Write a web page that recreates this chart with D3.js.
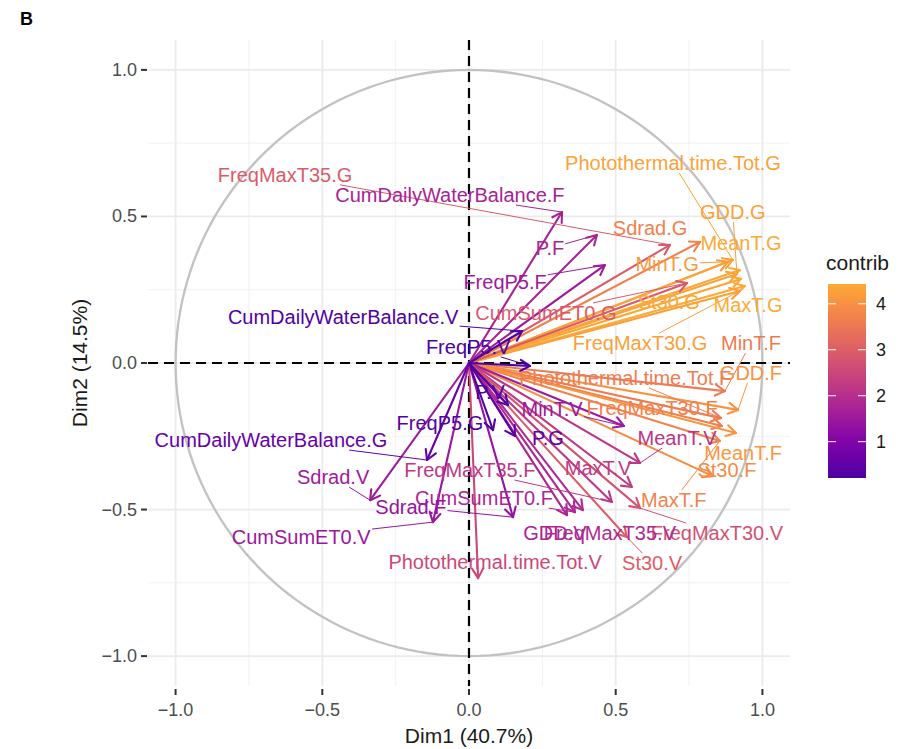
<!DOCTYPE html>
<html>
<head>
<meta charset="utf-8">
<script src="https://cdn.jsdelivr.net/npm/d3@7"></script>
<style>
  body { margin: 0; background: #fff; }
  text { font-family: "Liberation Sans", Arial, sans-serif; }
</style>
</head>
<body>
<div class="canvas"></div>
<script>
// variables (PCA correlation circle, coordinates on Dim1 / Dim2)
const names = [
  'CumDailyWaterBalance.F', 'P.F', 'FreqP5.F', 'FreqMaxT35.G', 'Sdrad.G', 'MinT.G',
  'Photothermal.time.Tot.G', 'MeanT.G', 'GDD.G', 'St30.G', 'MaxT.G', 'FreqMaxT30.G',
  'CumSumET0.G', 'MinT.F', 'GDD.F', 'Photothermal.time.Tot.F', 'FreqMaxT30.F', 'MeanT.F',
  'MaxT.F', 'St30.F', 'FreqMaxT35.F', 'MinT.V', 'MeanT.V', 'MaxT.V', 'FreqMaxT30.V',
  'St30.V', 'GDD.V', 'FreqMaxT35.V', 'CumSumET0.F', 'Sdrad.F', 'Photothermal.time.Tot.V',
  'Sdrad.V', 'CumSumET0.V', 'CumDailyWaterBalance.G', 'FreqP5.G', 'P.G', 'P.V',
  'FreqP5.V', 'CumDailyWaterBalance.V'
];
const dim1 = [
  0.317, 0.436, 0.463, 0.685, 0.787, 0.882,
  0.899, 0.923, 0.913, 0.927, 0.940, 0.923,
  0.743, 0.872, 0.917, 0.859, 0.862, 0.910,
  0.855, 0.831, 0.487, 0.528, 0.583, 0.555, 0.583,
  0.538, 0.334, 0.388, 0.361, 0.150, 0.031,
  -0.337, -0.123, -0.143, 0.082, 0.157, 0.133,
  0.208, 0.181
];
const dim2 = [
  0.515, 0.437, 0.334, 0.403, 0.413, 0.345,
  0.352, 0.317, 0.304, 0.287, 0.263, 0.246,
  0.273, -0.096, -0.160, -0.188, -0.215, -0.239,
  -0.266, -0.386, -0.474, -0.215, -0.341, -0.423, -0.495,
  -0.594, -0.519, -0.502, -0.509, -0.526, -0.734,
  -0.468, -0.543, -0.331, -0.229, -0.249, -0.143,
  -0.010, 0.109
];
const contrib = [
  1.70, 1.77, 1.52, 2.93, 3.67, 4.15,
  4.30, 4.42, 4.30, 4.35, 4.43, 4.24,
  2.90, 3.57, 4.02, 3.60, 3.68, 4.10,
  3.73, 3.90, 2.15, 1.51, 2.12, 2.26, 2.72,
  2.99, 1.77, 1.87, 1.81, 1.39, 2.51,
  1.55, 1.44, 0.60, 0.30, 0.40, 0.22,
  0.21, 0.21
];
// repelled label positions (centre of each label, same units as the axes)
const labelX = [
  -0.065, 0.276, 0.123, -0.627, 0.617, 0.675,
  0.695, 0.927, 0.899, 0.681, 0.951, 0.583,
  0.262, 0.961, 0.961, 0.532, 0.624, 0.934,
  0.698, 0.879, 0.003, 0.283, 0.709, 0.440, 0.845,
  0.624, 0.293, 0.480, 0.051, -0.198, 0.089,
  -0.463, -0.572, -0.675, -0.099, 0.269, 0.072,
  -0.003, -0.429
];
const labelY = [
  0.573, 0.392, 0.276, 0.642, 0.461, 0.338,
  0.683, 0.410, 0.515, 0.208, 0.198, 0.068,
  0.171, 0.068, -0.034, -0.051, -0.154, -0.307,
  -0.468, -0.365, -0.365, -0.157, -0.256, -0.358, -0.580,
  -0.683, -0.580, -0.580, -0.461, -0.491, -0.679,
  -0.389, -0.594, -0.263, -0.205, -0.256, -0.099,
  0.055, 0.157
];
const axisTicks = [-1, -0.5, 0, 0.5, 1];
const minorTicks = [-0.75, -0.25, 0.25, 0.75];
const legendTicks = [1, 2, 3, 4];

const data = names.map((n, i) => ({
  name: n, x: dim1[i], y: dim2[i], contrib: contrib[i], lx: labelX[i], ly: labelY[i]
}));

const svg = d3.select('.canvas')
  .append('svg')
  .attr('width', 903)
  .attr('height', 749);

const x = d3.scaleLinear().domain([-1.094, 1.094]).range([148, 790]);
const y = d3.scaleLinear().domain([-1.102, 1.102]).range([686, 40]);

const cMin = d3.min(contrib), cMax = d3.max(contrib);
const color = c => d3.interpolatePlasma(0.13 + 0.68 * (c - cMin) / (cMax - cMin));

// grid
const grid = svg.append('g');
grid.selectAll('.minx').data(minorTicks).enter().append('line')
  .attr('x1', d => x(d)).attr('x2', d => x(d)).attr('y1', 40).attr('y2', 686)
  .attr('stroke', '#efefef').attr('stroke-width', 0.9);
grid.selectAll('.miny').data(minorTicks).enter().append('line')
  .attr('y1', d => y(d)).attr('y2', d => y(d)).attr('x1', 148).attr('x2', 790)
  .attr('stroke', '#efefef').attr('stroke-width', 0.9);
grid.selectAll('.majx').data(axisTicks).enter().append('line')
  .attr('x1', d => x(d)).attr('x2', d => x(d)).attr('y1', 40).attr('y2', 686)
  .attr('stroke', '#ebebeb').attr('stroke-width', 1.8);
grid.selectAll('.majy').data(axisTicks).enter().append('line')
  .attr('y1', d => y(d)).attr('y2', d => y(d)).attr('x1', 148).attr('x2', 790)
  .attr('stroke', '#ebebeb').attr('stroke-width', 1.8);

// unit circle
const circle = d3.range(0, 361, 2).map(a => [Math.cos(a * Math.PI / 180), Math.sin(a * Math.PI / 180)]);
svg.append('path')
  .attr('d', d3.line().x(d => x(d[0])).y(d => y(d[1]))(circle))
  .attr('fill', 'none').attr('stroke', '#c2c2c2').attr('stroke-width', 2.3);

// dashed axes through origin
svg.append('line').attr('x1', 148).attr('x2', 790).attr('y1', y(0)).attr('y2', y(0))
  .attr('stroke', '#000').attr('stroke-width', 2.2).attr('stroke-dasharray', '10,6');
svg.append('line').attr('x1', x(0)).attr('x2', x(0)).attr('y1', 40).attr('y2', 686)
  .attr('stroke', '#000').attr('stroke-width', 2.2).attr('stroke-dasharray', '10,6');

// arrows
const arrows = svg.append('g').attr('fill', 'none').attr('stroke-width', 2.1).attr('stroke-linecap', 'round');
data.forEach(d => {
  const x0 = x(0), y0 = y(0), x1 = x(d.x), y1 = y(d.y);
  const ang = Math.atan2(y1 - y0, x1 - x0);
  const len = 11, spread = Math.PI / 6;
  arrows.append('line')
    .attr('x1', x0).attr('y1', y0).attr('x2', x1).attr('y2', y1)
    .attr('stroke', color(d.contrib));
  arrows.append('path')
    .attr('d', `M${x1 - len * Math.cos(ang - spread)},${y1 - len * Math.sin(ang - spread)}L${x1},${y1}L${x1 - len * Math.cos(ang + spread)},${y1 - len * Math.sin(ang + spread)}`)
    .attr('stroke', color(d.contrib)).attr('stroke-linejoin', 'round');
});

// labels with segments
const segs = svg.append('g');
const labels = svg.append('g');
data.forEach(d => {
  const cx = x(d.lx), cy = y(d.ly);
  const t = labels.append('text')
    .attr('x', cx).attr('y', cy)
    .attr('text-anchor', 'middle').attr('dominant-baseline', 'central')
    .attr('font-size', 20).attr('fill', color(d.contrib))
    .text(d.name);
  const b = t.node().getBBox();
  const hw = b.width / 2 + 1, hh = 10;
  const tx = x(d.x), ty = y(d.y);
  const dx = tx - cx, dy = ty - cy;
  const s = Math.min(dx !== 0 ? hw / Math.abs(dx) : Infinity, dy !== 0 ? hh / Math.abs(dy) : Infinity);
  if (s >= 1) return;
  const sx = cx + dx * s, sy = cy + dy * s;
  if (Math.hypot(tx - sx, ty - sy) < 20) return;
  segs.append('line')
    .attr('x1', sx).attr('y1', sy).attr('x2', tx).attr('y2', ty)
    .attr('stroke', color(d.contrib)).attr('stroke-width', 1);
});

// axes ticks and labels
const fmt = d3.format('.1f');
const axes = svg.append('g');
axes.selectAll('.xt').data(axisTicks).enter().append('line')
  .attr('x1', d => x(d)).attr('x2', d => x(d)).attr('y1', 689).attr('y2', 695)
  .attr('stroke', '#333').attr('stroke-width', 2);
axes.selectAll('.xl').data(axisTicks).enter().append('text')
  .attr('x', d => x(d)).attr('y', 716)
  .attr('text-anchor', 'middle').attr('font-size', 18).attr('fill', '#4d4d4d')
  .text(d => fmt(d));
axes.selectAll('.yt').data(axisTicks).enter().append('line')
  .attr('y1', d => y(d)).attr('y2', d => y(d)).attr('x1', 141).attr('x2', 147)
  .attr('stroke', '#333').attr('stroke-width', 2);
axes.selectAll('.yl').data(axisTicks).enter().append('text')
  .attr('x', 137).attr('y', d => y(d))
  .attr('text-anchor', 'end').attr('dominant-baseline', 'central')
  .attr('font-size', 18).attr('fill', '#4d4d4d')
  .text(d => fmt(d));

svg.append('text').attr('x', x(0)).attr('y', 743)
  .attr('text-anchor', 'middle').attr('font-size', 21).attr('fill', '#1a1a1a')
  .text('Dim1 (40.7%)');
svg.append('text')
  .attr('transform', `translate(87,${y(0)}) rotate(-90)`)
  .attr('text-anchor', 'middle').attr('font-size', 21).attr('fill', '#1a1a1a')
  .text('Dim2 (14.5%)');

svg.append('text').attr('x', 20).attr('y', 25)
  .attr('font-size', 18).attr('font-weight', 'bold').text('B');

// legend
const lg = svg.append('g');
const ly = d3.scaleLinear().domain([cMin, cMax]).range([478, 284]);
const grad = svg.append('defs').append('linearGradient')
  .attr('id', 'cgrad').attr('x1', 0).attr('x2', 0).attr('y1', 1).attr('y2', 0);
d3.range(0, 1.0001, 0.1).forEach(f => {
  grad.append('stop').attr('offset', f).attr('stop-color', color(cMin + f * (cMax - cMin)));
});
lg.append('text').attr('x', 826).attr('y', 270).attr('font-size', 21).attr('fill', '#1a1a1a').text('contrib');
lg.append('rect').attr('x', 828).attr('y', 284).attr('width', 38).attr('height', 194).attr('fill', 'url(#cgrad)');
legendTicks.forEach(v => {
  lg.append('line').attr('x1', 828).attr('x2', 836).attr('y1', ly(v)).attr('y2', ly(v))
    .attr('stroke', '#fff').attr('stroke-width', 1);
  lg.append('line').attr('x1', 858).attr('x2', 866).attr('y1', ly(v)).attr('y2', ly(v))
    .attr('stroke', '#fff').attr('stroke-width', 1);
  lg.append('text').attr('x', 876).attr('y', ly(v)).attr('dominant-baseline', 'central')
    .attr('font-size', 18).attr('fill', '#1a1a1a').text(v);
});
</script>
</body>
</html>
